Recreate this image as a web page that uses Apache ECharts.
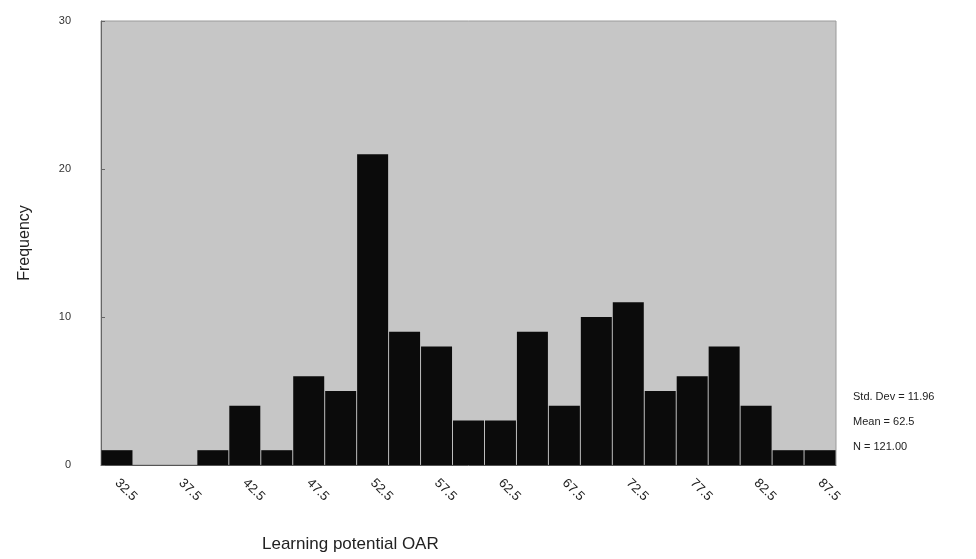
<!DOCTYPE html>
<html lang="en">
<head>
    <meta charset="UTF-8">
    <title>Learning potential OAR</title>
    <script type="text/javascript" src="https://cdn.jsdelivr.net/npm/echarts@6/dist/echarts.min.js"></script>
    <style>
        html, body { margin: 0; padding: 0; background: #fff; }
        #chart { width: 976px; height: 559px; }
    </style>
</head>
<body>
    <div id="chart"></div>
    <script>
        // bin midpoints, width 2.5
        var bins = ['32.5', '35', '37.5', '40', '42.5', '45', '47.5', '50', '52.5', '55', '57.5', '60',
                    '62.5', '65', '67.5', '70', '72.5', '75', '77.5', '80', '82.5', '85', '87.5'];
        var freq = [1, 0, 0, 1, 4, 1, 6, 5, 21, 9, 8, 3, 3, 9, 4, 10, 11, 5, 6, 8, 4, 1, 1];
        var yTicks = [0, 10, 20, 30];
        var stats = ['Std. Dev = 11.96', 'Mean = 62.5', 'N = 121.00'];

        var chart = echarts.init(document.getElementById('chart'));
        var font = 'Liberation Sans, Arial, sans-serif';

        var option = {
            animation: false,
            backgroundColor: '#fff',
            grid: {
                left: 101, right: 140, top: 21, bottom: 94,
                show: true,
                backgroundColor: '#c6c6c6',
                borderColor: '#9a9a9a',
                borderWidth: 1
            },
            xAxis: {
                type: 'category',
                data: bins,
                axisLine: { lineStyle: { color: '#555' } },
                axisTick: { show: false },
                axisLabel: {
                    interval: 1,
                    rotate: -45,
                    margin: 16,
                    fontFamily: font,
                    fontSize: 13,
                    color: '#222'
                }
            },
            yAxis: {
                type: 'value',
                min: yTicks[0],
                max: yTicks[yTicks.length - 1],
                interval: 10,
                name: 'Frequency',
                nameLocation: 'middle',
                nameGap: 68,
                nameRotate: 90,
                nameTextStyle: { fontFamily: font, fontSize: 16, color: '#222' },
                axisLine: { show: true, lineStyle: { color: '#666' } },
                axisTick: { show: true, inside: true, length: 4, lineStyle: { color: '#666' } },
                splitLine: { show: false },
                axisLabel: { fontFamily: font, fontSize: 11, color: '#333', margin: 30 }
            },
            series: [{
                type: 'bar',
                data: freq,
                barCategoryGap: '3%',
                itemStyle: { color: '#0b0b0b' }
            }],
            graphic: [
                {
                    type: 'text', left: 262, top: 536,
                    style: { text: 'Learning potential OAR', font: '17px ' + font, fill: '#222' }
                },
                {
                    type: 'text', left: 853, top: 391,
                    style: { text: stats[0], font: '11px ' + font, fill: '#222' }
                },
                {
                    type: 'text', left: 853, top: 416,
                    style: { text: stats[1], font: '11px ' + font, fill: '#222' }
                },
                {
                    type: 'text', left: 853, top: 441,
                    style: { text: stats[2], font: '11px ' + font, fill: '#222' }
                }
            ]
        };
        chart.setOption(option);
    </script>
</body>
</html>
